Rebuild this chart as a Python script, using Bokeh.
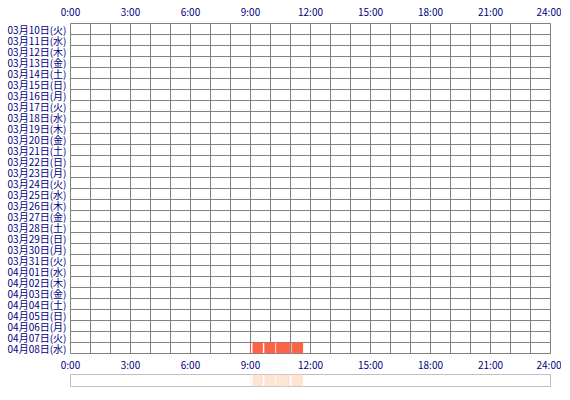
from bokeh.plotting import figure
from bokeh.models import Range1d, FixedTicker, LinearAxis, ColumnDataSource
from bokeh.layouts import column
from bokeh.embed import file_html
from bokeh.resources import INLINE

# one row per day, top to bottom
dates = ["03月10日(火)", "03月11日(水)", "03月12日(木)", "03月13日(金)", "03月14日(土)",
         "03月15日(日)", "03月16日(月)", "03月17日(火)", "03月18日(水)", "03月19日(木)",
         "03月20日(金)", "03月21日(土)", "03月22日(日)", "03月23日(月)", "03月24日(火)",
         "03月25日(水)", "03月26日(木)", "03月27日(金)", "03月28日(土)", "03月29日(日)",
         "03月30日(月)", "03月31日(火)", "04月01日(水)", "04月02日(木)", "04月03日(金)",
         "04月04日(土)", "04月05日(日)", "04月06日(月)", "04月07日(火)", "04月08日(水)"]

hour_ticks = [0, 3, 6, 9, 12, 15, 18, 21, 24]
hour_labels = ["0:00", "3:00", "6:00", "9:00", "12:00", "15:00", "18:00", "21:00", "24:00"]

# activity blocks (hours)
bar_days = ["04月08日(水)"] * 5
bar_start = [8.97, 9.10, 9.69, 10.28, 11.05]
bar_end = [9.00, 9.62, 10.24, 10.97, 11.63]

n = len(dates)
FONT = "Noto Sans CJK JP"
NAVY = "#000080"
GRID = "#808080"


def style_axis(ax, standoff):
    ax.axis_line_color = None
    ax.major_tick_line_color = None
    ax.minor_tick_line_color = None
    ax.major_tick_in = 0
    ax.major_tick_out = 0
    ax.major_label_text_font = FONT
    ax.major_label_text_font_size = "10px"
    ax.major_label_text_color = NAVY
    ax.major_label_standoff = standoff


p = figure(frame_width=480, frame_height=330,
           x_range=Range1d(0, 24), y_range=Range1d(0, n),
           output_backend="svg", toolbar_location=None,
           min_border_left=70, min_border_top=20, min_border_right=11, min_border_bottom=18)
p.background_fill_color = "white"
p.border_fill_color = "white"
p.outline_line_color = GRID

# x axes (below + above)
p.xaxis.ticker = FixedTicker(ticks=hour_ticks)
p.xaxis.major_label_overrides = dict(zip(hour_ticks, hour_labels))
top = LinearAxis(ticker=FixedTicker(ticks=hour_ticks),
                 major_label_overrides=dict(zip(hour_ticks, hour_labels)))
p.add_layout(top, "above")

# y axis: day labels at row centers
row_y = [n - i - 0.5 for i in range(n)]
p.yaxis.ticker = FixedTicker(ticks=row_y)
p.yaxis.major_label_overrides = dict(zip(row_y, dates))

style_axis(p.below[0], 3)
style_axis(top, 5)
style_axis(p.yaxis[0], 4)

p.xgrid.ticker = FixedTicker(ticks=list(range(25)))
p.ygrid.ticker = FixedTicker(ticks=list(range(n + 1)))
p.grid.grid_line_color = GRID
p.grid.grid_line_alpha = 1.0

src = ColumnDataSource(dict(
    y=[n - dates.index(d) - 0.5 for d in bar_days],
    left=bar_start, right=bar_end))
p.hbar(y="y", left="left", right="right", height=1, source=src,
       fill_color="#ff6347", line_color=None)

# overview strip underneath
nav = figure(frame_width=480, frame_height=12,
             x_range=Range1d(0, 24), y_range=Range1d(0, 1),
             x_axis_type=None, y_axis_type=None,
             output_backend="svg", toolbar_location=None,
             min_border_left=70, min_border_right=11, min_border_top=0, min_border_bottom=4)
nav.outline_line_color = "#c0c0c0"
nav.border_fill_color = "white"
nav.quad(left="left", right="right", bottom=0, top=1, source=src,
         fill_color="#ffe3d3", line_color=None)

layout = column(p, nav, spacing=0)
open("out.html", "w").write(file_html(layout, INLINE))
